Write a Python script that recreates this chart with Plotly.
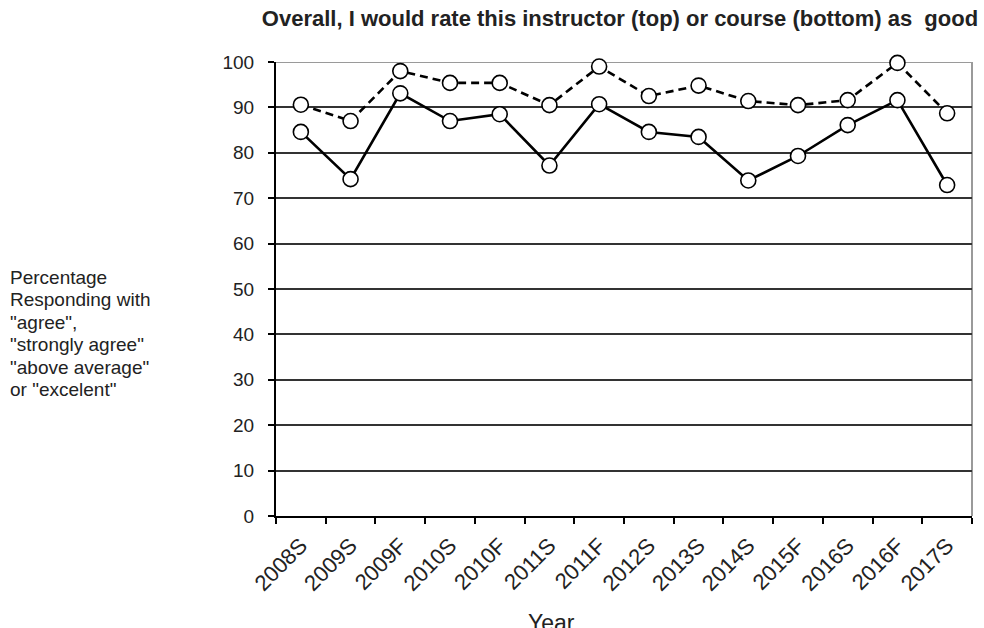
import plotly.graph_objects as go

categories = ["2008S", "2009S", "2009F", "2010S", "2010F", "2011S", "2011F",
              "2012S", "2013S", "2014S", "2015F", "2016S", "2016F", "2017S"]
instructor_top = [90.6, 87.0, 98.0, 95.4, 95.4, 90.5, 99.0,
                  92.5, 94.8, 91.4, 90.5, 91.6, 99.8, 88.7]
course_bottom = [84.6, 74.2, 93.1, 87.0, 88.5, 77.2, 90.7,
                 84.6, 83.5, 73.9, 79.3, 86.1, 91.6, 72.9]
y_ticks = [0, 10, 20, 30, 40, 50, 60, 70, 80, 90, 100]

title_text = "Overall, I would rate this instructor (top) or course (bottom) as  good"
y_title_lines = ["Percentage", "Responding with", "\"agree\",", "\"strongly agree\"",
                 "\"above average\"", "or \"excelent\""]
x_title = "Year"

FONT = "Arial, Liberation Sans, sans-serif"
TXT = "#222222"

W, H = 984, 628
L, R, T, B = 276, 12, 62, 112
pw, ph = W - L - R, H - T - B


def py(pix):
    """pixel row -> paper y"""
    return (H - B - pix) / ph


def px(pix):
    return (pix - L) / pw


fig = go.Figure()
marker = dict(symbol="circle", size=15, color="white", line=dict(color="black", width=1.6))
fig.add_trace(go.Scatter(x=categories, y=instructor_top, mode="lines+markers",
                         line=dict(color="black", width=2.6, dash="8px,5px"),
                         marker=marker, showlegend=False, cliponaxis=False))
fig.add_trace(go.Scatter(x=categories, y=course_bottom, mode="lines+markers",
                         line=dict(color="black", width=2.6),
                         marker=marker, showlegend=False, cliponaxis=False))

# base size sets the line spacing (1.3 em), span sets glyph size
y_title_html = "<br>".join('<span style="font-size:19px">' + s + "</span>"
                           for s in y_title_lines)
annotations = [
    dict(text=y_title_html, xref="paper", yref="paper",
         x=px(8), y=py(333), xanchor="left", yanchor="middle",
         align="left", showarrow=False,
         font=dict(family=FONT, size=17.3, color=TXT)),
    dict(text=x_title, xref="paper", yref="paper",
         x=px(551), y=py(608), xanchor="center", yanchor="top",
         showarrow=False, font=dict(family=FONT, size=23, color=TXT)),
]

fig.update_layout(
    width=W, height=H,
    margin=dict(l=L, r=R, t=T, b=B, autoexpand=False),
    paper_bgcolor="white", plot_bgcolor="white",
    font=dict(family=FONT, size=19, color=TXT),
    title=dict(text="<b>" + title_text + "</b>", x=px(620), xref="paper", xanchor="center",
               y=1 - 18 / H, yanchor="middle", yref="container",
               font=dict(family=FONT, size=22, color=TXT)),
    xaxis=dict(type="category", range=[-0.5, len(categories) - 0.5], autorange=False,
               showgrid=False, showline=True, linecolor="black",
               linewidth=2, ticks="outside", tickson="boundaries", ticklen=6,
               tickcolor="black", tickwidth=1.5, tickangle=-45,
               tickfont=dict(family=FONT, size=22, color=TXT),
               ticklabelstandoff=6, zeroline=False),
    yaxis=dict(range=[0, 100], autorange=False, tickvals=y_ticks, showgrid=True,
               gridcolor="#333333", gridwidth=1.5, showline=True, linecolor="black",
               linewidth=2, ticks="outside", ticklen=6, tickcolor="black", tickwidth=1.5,
               tickfont=dict(family=FONT, size=19, color=TXT),
               ticklabelstandoff=10, zeroline=False),
    shapes=[
        dict(type="line", xref="paper", yref="y", x0=0, x1=1, y0=100, y1=100,
             line=dict(color="#9a9a9a", width=2), layer="between"),
        dict(type="line", xref="paper", yref="paper", x0=1, x1=1, y0=0, y1=1,
             line=dict(color="#9a9a9a", width=2), layer="between"),
    ],
    annotations=annotations,
)

fig.write_html("out.html", config={"displayModeBar": False},
               post_script="document.body.style.margin='0';")
